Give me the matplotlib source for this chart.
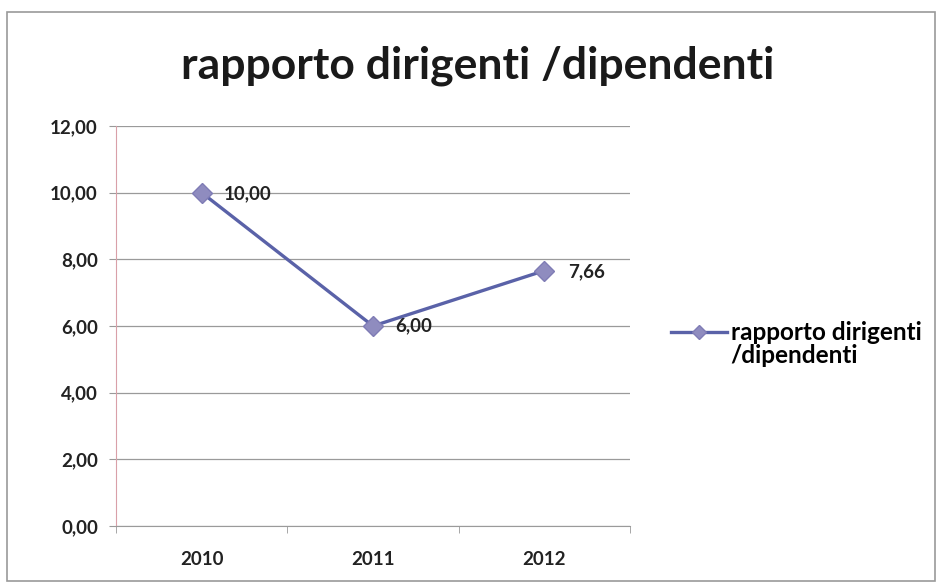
import matplotlib
matplotlib.use("Agg")
import matplotlib.pyplot as plt
from matplotlib.patches import Rectangle
from matplotlib.legend_handler import HandlerLine2D

years = ["2010", "2011", "2012"]
values = [10.00, 6.00, 7.66]
labels = ["10,00", "6,00", "7,66"]
yticks = [0, 2, 4, 6, 8, 10, 12]
ytick_labels = ["0,00", "2,00", "4,00", "6,00", "8,00", "10,00", "12,00"]
series_name = "rapporto dirigenti\n/dipendenti"
title = "rapporto dirigenti /dipendenti"

plt.rcParams['font.family'] = ['Lato', 'DejaVu Sans']


class TopLineHandler(HandlerLine2D):
    """Legend handle aligned with the first line of a two-line label."""
    def __init__(self, shift, msize, **kw):
        super().__init__(**kw)
        self.shift = shift
        self.msize = msize

    def create_artists(self, legend, orig_handle, xdescent, ydescent, width,
                       height, fontsize, trans):
        arts = super().create_artists(legend, orig_handle, xdescent, ydescent,
                                      width, height, fontsize, trans)
        for a in arts:
            a.set_ydata([y + self.shift for y in a.get_ydata()])
            a.set_markersize(self.msize)
        return arts


fig = plt.figure(figsize=(9.41, 5.85), dpi=100)
fig.patch.set_facecolor("white")
# outer chart frame
fig.add_artist(Rectangle((7/941, 4/585), (935-7)/941, (573-4)/585, transform=fig.transFigure,
                         fill=False, edgecolor="#9a9a9a", linewidth=1.2))

ax = fig.add_axes([116/941, 1 - 526/585, (630-116)/941, (526-126)/585])
x = list(range(len(years)))
line, = ax.plot(x, values, color="#5a62a8", linewidth=2.4, marker="D", markersize=10,
                markerfacecolor="#8f8cbf", markeredgecolor="#7f7cb5", label=series_name, zorder=3)

offsets = [(16, -1), (16, 0), (17, -1)]
for xi, v, lab, off in zip(x, values, labels, offsets):
    ax.annotate(lab, (xi, v), xytext=off, textcoords="offset points",
                ha="left", va="center", fontsize=13.5, fontweight="bold", color="#222222")

ax.set_xlim(-0.5, 2.5)
ax.set_ylim(0, 12)
ax.set_yticks(yticks)
ax.set_yticklabels(ytick_labels, fontsize=13.5, fontweight="bold", color="#222222")
ax.set_xticks(x)
ax.set_xticklabels(years, fontsize=13.5, fontweight="bold", color="#222222")
ax.set_xticks([-0.5, 0.5, 1.5, 2.5], minor=True)
ax.tick_params(axis="x", which="major", length=0, pad=18)
ax.tick_params(axis="x", which="minor", length=5, color="#999999", direction="out")
ax.tick_params(axis="y", length=5, color="#999999", pad=8)
ax.grid(axis="y", color="#9a9a9a", linewidth=0.9)
ax.set_axisbelow(True)
for s in ["top", "right"]:
    ax.spines[s].set_visible(False)
ax.spines["left"].set_color("#d9a0a8")
ax.spines["bottom"].set_color("#9a9a9a")

fig.text(478/941, 1 - 66/585, title, ha="center", va="center", fontsize=32,
         fontweight="bold", color="#1a1a1a")

leg = ax.legend(loc="center left", bbox_to_anchor=(1.08, 0.456), frameon=False,
                prop={"weight": "bold", "size": 17.5}, handlelength=2.3,
                handletextpad=0.15, borderaxespad=0, borderpad=0,
                handler_map={line: TopLineHandler(shift=9, msize=7)})
for t in leg.get_texts():
    t.set_linespacing(1.0)

fig.savefig("out.png", dpi=100, facecolor="white")
